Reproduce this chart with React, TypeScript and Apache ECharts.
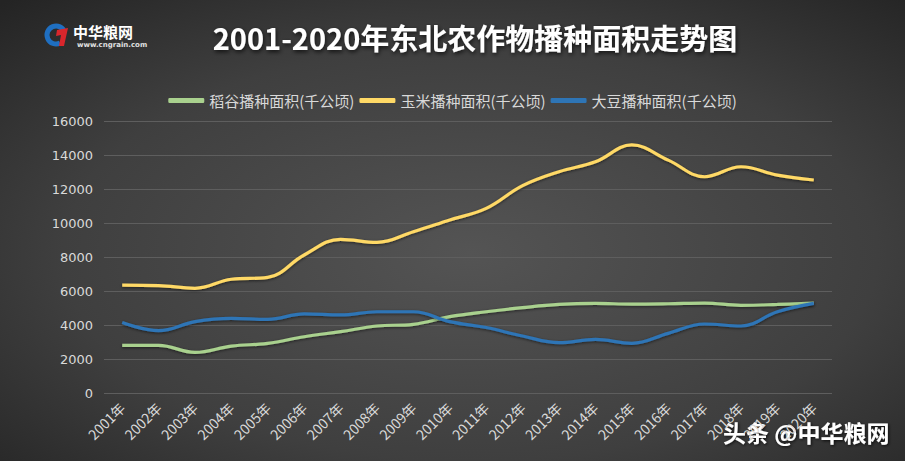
import React, { useEffect, useRef } from 'react';
import * as echarts from 'echarts';

const years = ['2001年', '2002年', '2003年', '2004年', '2005年', '2006年', '2007年', '2008年', '2009年', '2010年',
  '2011年', '2012年', '2013年', '2014年', '2015年', '2016年', '2017年', '2018年', '2019年', '2020年'];
const seriesNames = ['稻谷播种面积(千公顷)', '玉米播种面积(千公顷)', '大豆播种面积(千公顷)'];
const rice = [2800, 2800, 2390, 2760, 2920, 3310, 3610, 3940, 4040, 4490, 4780, 5020, 5210, 5270, 5230, 5250, 5290, 5160, 5210, 5290];
const corn = [6350, 6320, 6160, 6690, 6800, 8120, 9040, 8860, 9490, 10180, 10860, 12200, 13020, 13600, 14590, 13700, 12720, 13310, 12820, 12530];
const soybean = [4140, 3670, 4200, 4390, 4330, 4650, 4590, 4780, 4780, 4200, 3850, 3350, 2960, 3150, 2920, 3510, 4060, 3940, 4780, 5270];
const yMin = 0;
const yMax = 16000;
const yInterval = 2000;

const titleText = '2001-2020年东北农作物播种面积走势图';
const logoText = '中华粮网';
const logoUrl = 'www.cngrain.com';
const watermarkText = '头条 @中华粮网';

const colors = ['#a9d18e', '#ffd966', '#2e75b6'];

export default function App() {
  const ref = useRef<HTMLDivElement>(null);
  useEffect(() => {
    document.body.style.margin = '0';
    const chart = echarts.init(ref.current!, null, { renderer: 'svg' });
    const mk = (name: string, data: number[], color: string) => ({
      name,
      type: 'line',
      data,
      smooth: 0.4,
      showSymbol: false,
      symbol: 'none',
      lineStyle: { color, width: 3.2, shadowColor: 'rgba(0,0,0,0.55)', shadowBlur: 3, shadowOffsetY: 1 },
      itemStyle: { color },
    });
    chart.setOption({
      animation: false,
      backgroundColor: new echarts.graphic.RadialGradient(0.52, 0.55, 0.75, [
        { offset: 0, color: '#545454' },
        { offset: 0.6, color: '#3f3f3f' },
        { offset: 1, color: '#242424' },
      ]),
      textStyle: { fontFamily: '"Noto Sans CJK SC", "Noto Sans", sans-serif' },
      title: {
        text: titleText,
        left: 470,
        textAlign: 'center',
        top: 17,
        textStyle: {
          color: '#ffffff',
          fontSize: 29,
          fontWeight: 'bold',
          fontFamily: '"Noto Sans CJK SC", sans-serif',
          textShadowColor: 'rgba(0,0,0,0.7)',
          textShadowBlur: 4,
          textShadowOffsetX: 1,
          textShadowOffsetY: 2,
        },
      },
      legend: {
        data: seriesNames,
        top: 88,
        left: 'center',
        icon: 'roundRect',
        itemWidth: 36,
        itemHeight: 5,
        itemGap: 5,
        textStyle: { color: '#d9d9d9', fontSize: 15, fontFamily: '"Noto Sans CJK SC", sans-serif' },
      },
      grid: { left: 104, right: 73, top: 121, bottom: 68, containLabel: false },
      xAxis: {
        type: 'category',
        data: years,
        boundaryGap: true,
        axisLine: { show: false },
        axisTick: { show: false },
        axisLabel: {
          rotate: 45,
          color: '#d9d9d9',
          fontSize: 14,
          margin: 12,
          interval: 0,
          fontFamily: '"Noto Sans CJK SC", sans-serif',
        },
      },
      yAxis: {
        type: 'value',
        min: yMin,
        max: yMax,
        interval: yInterval,
        axisLine: { show: false },
        axisTick: { show: false },
        axisLabel: {
          color: '#d9d9d9',
          fontSize: 13,
          margin: 11,
          fontFamily: '"DejaVu Sans", sans-serif',
          formatter: (v: number) => String(v),
        },
        splitLine: { lineStyle: { color: '#5e5e5e', width: 1 } },
      },
      series: [
        mk(seriesNames[0], rice, colors[0]),
        mk(seriesNames[1], corn, colors[1]),
        mk(seriesNames[2], soybean, colors[2]),
      ],
      graphic: [
        {
          type: 'arc',
          shape: { cx: 56, cy: 35, r: 9, startAngle: Math.PI * 0.35, endAngle: Math.PI * 1.9 },
          style: { stroke: '#1f6fc1', lineWidth: 5, fill: 'none' },
        },
        {
          type: 'polygon',
          shape: { points: [[57, 30], [68, 28], [64, 46], [59, 46], [61, 35], [56, 36]] },
          style: { fill: '#d9262c' },
        },
        {
          type: 'text',
          left: 73,
          top: 24,
          style: {
            text: logoText,
            fill: '#ffffff',
            fontSize: 15,
            fontWeight: 'bold',
            fontFamily: '"Noto Sans CJK SC", sans-serif',
          },
        },
        {
          type: 'text',
          left: 77,
          top: 41,
          style: {
            text: logoUrl,
            fill: '#e0e0e0',
            fontSize: 7,
            fontWeight: 'bold',
            fontFamily: '"DejaVu Sans", sans-serif',
          },
        },
        {
          type: 'text',
          left: 723,
          top: 420,
          style: {
            text: watermarkText,
            fill: '#ffffff',
            fontSize: 23,
            fontWeight: 'bold',
            fontFamily: '"Noto Sans CJK SC", sans-serif',
            textShadowColor: 'rgba(0,0,0,0.8)',
            textShadowBlur: 3,
            textShadowOffsetX: 1,
            textShadowOffsetY: 1,
          },
        },
      ],
    });
    return () => chart.dispose();
  }, []);
  return <div ref={ref} style={{ position: 'absolute', left: 0, top: 0, width: 905, height: 461 }} />;
}
